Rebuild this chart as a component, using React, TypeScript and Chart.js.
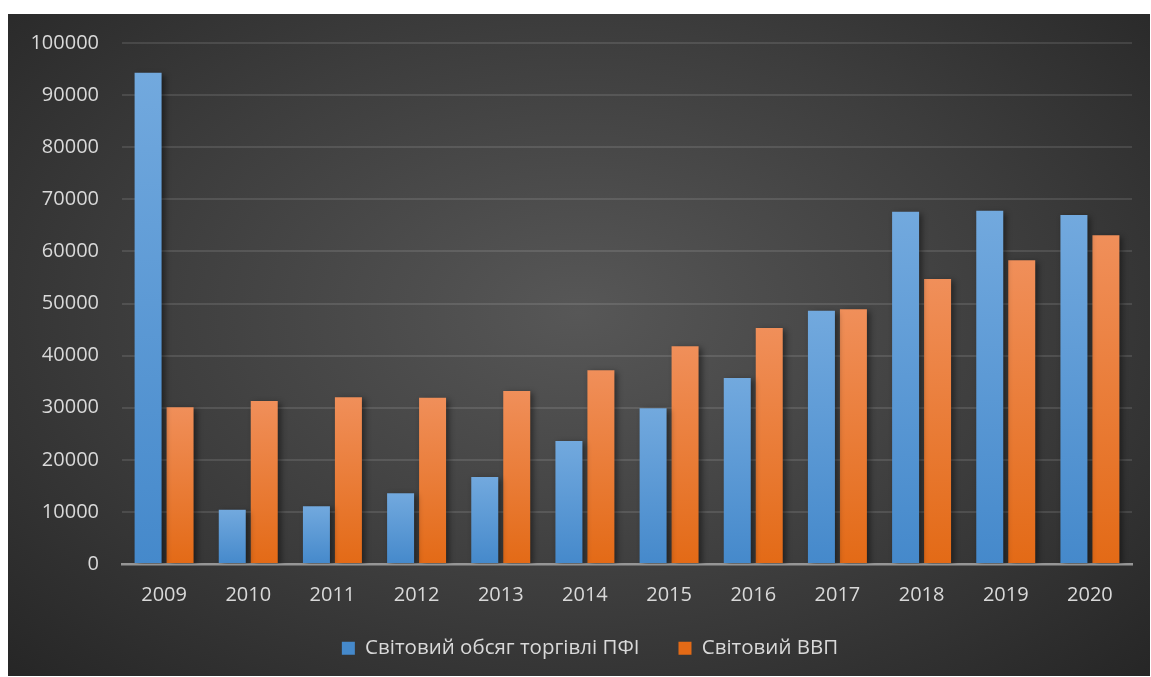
import React, { useEffect, useRef } from "react";
import { Chart, registerables } from "chart.js";

Chart.register(...registerables);

const years = ["2009", "2010", "2011", "2012", "2013", "2014", "2015", "2016", "2017", "2018", "2019", "2020"];
const tradeValues = [94300, 10400, 11100, 13600, 16700, 23600, 29900, 35700, 48600, 67600, 67800, 67000];
const gdpValues = [30100, 31300, 32000, 31900, 33200, 37200, 41800, 45300, 48900, 54700, 58300, 63100];
const seriesNames = ["Світовий обсяг торгівлі ПФІ", "Світовий ВВП"];

const FONT = "'Open Sans', 'Noto Sans', sans-serif";
const TEXT = "#d9d9d9";
const LEGEND_HEIGHT = 64;

function barGradient(topColor: string, bottomColor: string) {
  return (ctx: any) => {
    const chart = ctx.chart;
    const area = chart.chartArea;
    if (!area || ctx.type !== "data") return bottomColor;
    const yScale = chart.scales.y;
    const top = yScale.getPixelForValue(ctx.raw as number);
    const bottom = yScale.getPixelForValue(0);
    if (!isFinite(top) || !isFinite(bottom) || top === bottom) return bottomColor;
    const g = chart.ctx.createLinearGradient(0, top, 0, bottom);
    g.addColorStop(0, topColor);
    g.addColorStop(1, bottomColor);
    return g;
  };
}

const shadowPlugin = {
  id: "barShadow",
  beforeDatasetsDraw(chart: any) {
    const c = chart.ctx;
    c.save();
    c.shadowColor = "rgba(0,0,0,0.45)";
    c.shadowBlur = 6;
    c.shadowOffsetX = 3;
    c.shadowOffsetY = 2;
  },
  afterDatasetsDraw(chart: any) {
    chart.ctx.restore();
  },
};

const legendPlacePlugin = {
  id: "legendPlace",
  beforeUpdate(chart: any) {
    const lg = chart.legend;
    if (lg && !lg.__patched) {
      const orig = lg.fit;
      lg.fit = function () {
        orig.call(this);
        this.height = LEGEND_HEIGHT;
      };
      lg.__patched = true;
    }
  },
  afterLayout(chart: any) {
    const lg = chart.legend;
    if (lg) {
      lg.left = lg.left + 40;
      lg.top = 585;
      lg.bottom = lg.top + LEGEND_HEIGHT;
    }
  },
};

export default function App() {
  const ref = useRef<HTMLCanvasElement | null>(null);

  useEffect(() => {
    if (!ref.current) return;
    const chart = new Chart(ref.current, {
      type: "bar",
      data: {
        labels: years,
        datasets: [
          {
            label: seriesNames[0],
            data: tradeValues,
            backgroundColor: barGradient("#72a9de", "#4589cb"),
            categoryPercentage: 0.76,
            barPercentage: 0.844,
          },
          {
            label: seriesNames[1],
            data: gdpValues,
            backgroundColor: barGradient("#f08f5a", "#e36a16"),
            categoryPercentage: 0.76,
            barPercentage: 0.844,
          },
        ],
      },
      options: {
        animation: false,
        responsive: false,
        maintainAspectRatio: false,
        layout: { padding: { top: 29, right: 18, left: 0, bottom: 0 } },
        scales: {
          x: {
            grid: { display: false, drawTicks: false },
            border: { display: true, color: "#969696", width: 2.5 },
            ticks: { color: TEXT, font: { family: FONT, size: 20 }, padding: 19 },
            afterFit(scale: any) {
              scale.height = 48;
            },
          },
          y: {
            min: 0,
            max: 100000,
            ticks: {
              stepSize: 10000,
              color: TEXT,
              font: { family: FONT, size: 20 },
              padding: 23,
              callback: (v: any) => String(v),
            },
            grid: { color: "rgba(255,255,255,0.11)", lineWidth: 2, drawTicks: false },
            border: { display: false },
            afterFit(scale: any) {
              scale.width = 114;
              scale.paddingTop = 0;
              scale.paddingBottom = 0;
            },
          },
        },
        plugins: {
          legend: {
            position: "bottom",
            labels: {
              color: TEXT,
              font: { family: FONT, size: 20.5 },
              boxWidth: 13,
              boxHeight: 13,
              padding: 39,
            },
          },
          tooltip: { enabled: false },
        },
      },
      plugins: [shadowPlugin, legendPlacePlugin],
    });
    return () => chart.destroy();
  }, []);

  return (
    <div
      style={{
        position: "absolute",
        left: 8,
        top: 14,
        width: 1142,
        height: 662,
        background: "radial-gradient(ellipse at 50% 45%, #575757 0%, #3d3d3d 55%, #262626 100%)",
      }}
    >
      <canvas ref={ref} width={1142} height={662} style={{ display: "block" }} />
    </div>
  );
}
